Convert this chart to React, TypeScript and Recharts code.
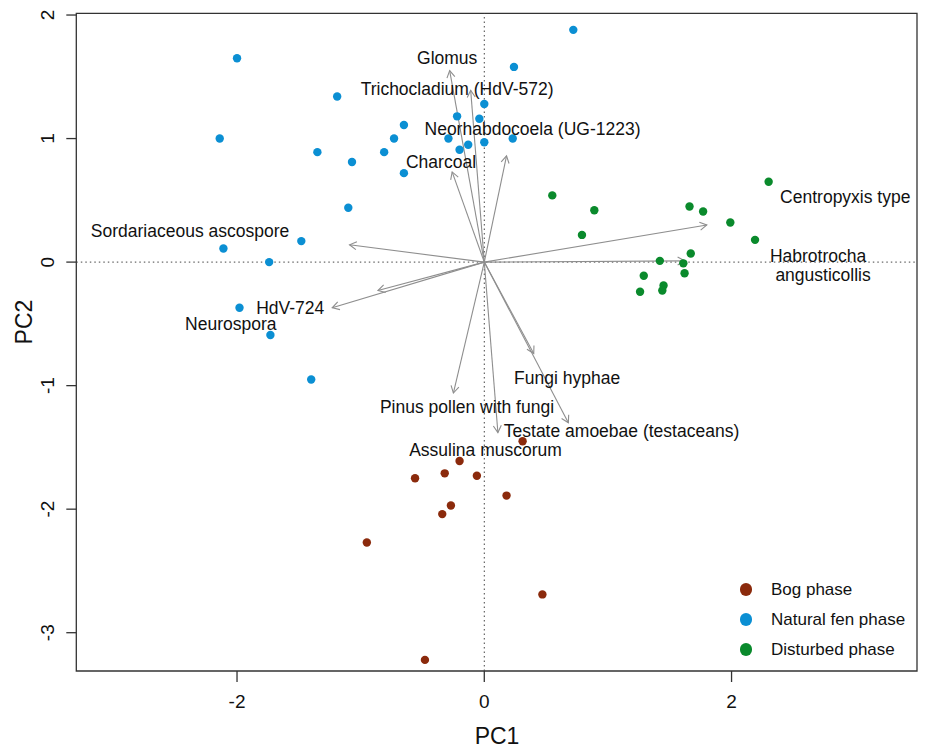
import React from "react"
import {
  ScatterChart,
  Scatter,
  XAxis,
  YAxis,
  ReferenceLine,
  ReferenceArea,
  Legend,
} from "recharts"

// sample scores (PC1 / PC2)
const bogPC1 = [-0.2, -0.32, -0.56, -0.27, -0.34, -0.95, -0.48, 0.31, -0.06, 0.18, 0.47]
const bogPC2 = [-1.61, -1.71, -1.75, -1.97, -2.04, -2.27, -3.22, -1.45, -1.73, -1.89, -2.69]

const fenPC1 = [-2.0, -2.14, -1.19, -1.35, -1.07, -0.65, -0.73, -0.81, -0.65, -1.1, -1.48, -2.11, -1.74, -1.98, -1.73, -1.4, -0.22, -0.04, 0.0, -0.29, -0.2, -0.13, 0.0, 0.23, 0.24, 0.72]
const fenPC2 = [1.65, 1.0, 1.34, 0.89, 0.81, 1.11, 1.0, 0.89, 0.72, 0.44, 0.17, 0.11, 0.0, -0.37, -0.59, -0.95, 1.18, 1.16, 1.28, 1.0, 0.91, 0.95, 0.97, 1.0, 1.58, 1.88]

const disturbedPC1 = [2.3, 0.55, 0.89, 0.79, 1.66, 1.77, 1.99, 2.19, 1.67, 1.42, 1.61, 1.62, 1.29, 1.45, 1.44, 1.26]
const disturbedPC2 = [0.65, 0.54, 0.42, 0.22, 0.45, 0.41, 0.32, 0.18, 0.07, 0.01, -0.01, -0.09, -0.11, -0.19, -0.23, -0.24]

// variable loadings (arrow tips)
const loadingNames = ["Glomus", "Trichocladium (HdV-572)", "Neorhabdocoela (UG-1223)", "Charcoal", "Sordariaceous ascospore", "Neurospora", "HdV-724", "Centropyxis type", "Habrotrocha angusticollis", "Pinus pollen with fungi", "Assulina muscorum", "Testate amoebae (testaceans)", "Fungi hyphae"]
const loadingPC1 = [-0.28, -0.11, 0.18, -0.26, -1.09, -0.86, -1.23, 1.8, 1.62, -0.25, 0.11, 0.68, 0.4]
const loadingPC2 = [1.55, 1.39, 0.86, 0.73, 0.14, -0.23, -0.37, 0.3, 0.01, -1.06, -1.38, -1.3, -0.74]

// label anchors (the two-word Habrotrocha label sits on two lines)
const labelText = ["Glomus", "Trichocladium (HdV-572)", "Neorhabdocoela (UG-1223)", "Charcoal", "Sordariaceous ascospore", "Neurospora", "HdV-724", "Centropyxis type", "Habrotrocha", "angusticollis", "Pinus pollen with fungi", "Assulina muscorum", "Testate amoebae (testaceans)", "Fungi hyphae"]
const labelPC1 = [-0.3, -0.22, 0.39, -0.35, -2.38, -2.05, -1.57, 2.92, 2.7, 2.74, -0.14, 0.01, 1.11, 0.67]
const labelPC2 = [1.65, 1.4, 1.08, 0.81, 0.25, -0.5, -0.37, 0.53, 0.05, -0.1, -1.17, -1.52, -1.37, -0.94]

const groups = [
  { name: "Bog phase", color: "#8b2a0c", xs: bogPC1, ys: bogPC2 },
  { name: "Natural fen phase", color: "#0b8fd3", xs: fenPC1, ys: fenPC2 },
  { name: "Disturbed phase", color: "#0a8a2c", xs: disturbedPC1, ys: disturbedPC2 },
]

const font = "'Liberation Sans', Arial, Helvetica, sans-serif"

const toPoints = (xs: number[], ys: number[]) => xs.map((x, i) => ({ x, y: ys[i] }))

const labels = labelText.map((t, i) => ({ x: labelPC1[i], y: labelPC2[i], text: t }))

const ArrowLine = (p: any) => {
  const { x1, y1, x2, y2 } = p
  const a = Math.atan2(y2 - y1, x2 - x1)
  const L = 8
  const w = Math.PI / 6
  const ax = x2 - L * Math.cos(a - w)
  const ay = y2 - L * Math.sin(a - w)
  const bx = x2 - L * Math.cos(a + w)
  const by = y2 - L * Math.sin(a + w)
  return (
    <g stroke="#8e8e8e" strokeWidth={1.1} fill="none">
      <line x1={x1} y1={y1} x2={x2} y2={y2} />
      <polyline points={`${ax},${ay} ${x2},${y2} ${bx},${by}`} />
    </g>
  )
}

const LabelText = (p: any) => (
  <text x={p.cx} y={p.cy} dy="0.35em" textAnchor="middle" fontSize={17.5} fontFamily={font} fill="#111">
    {p.payload.text}
  </text>
)

const XTick = (p: any) => (
  <text x={p.x} y={p.y + 19} textAnchor="middle" dominantBaseline="central" fontSize={19} fontFamily={font} fill="#111">
    {p.payload.value}
  </text>
)

const YTick = (p: any) => (
  <text
    transform={`translate(${p.x - 19},${p.y}) rotate(-90)`}
    textAnchor="middle"
    dominantBaseline="central"
    fontSize={19}
    fontFamily={font}
    fill="#111"
  >
    {p.payload.value}
  </text>
)

const LegendBox = () => (
  <div style={{ fontFamily: font, fontSize: 17, color: "#111" }}>
    {groups.map((g) => (
      <div key={g.name} style={{ display: "flex", alignItems: "center", height: 30 }}>
        <span style={{ width: 12.6, height: 12.6, borderRadius: "50%", background: g.color, marginRight: 18.7 }} />
        <span>{g.name}</span>
      </div>
    ))}
  </div>
)

export default function App() {
  return (
    <div style={{ position: "absolute", left: 0, top: 0, width: 925, height: 748, background: "#fff" }}>
      <ScatterChart width={925} height={748} margin={{ top: 13.3, right: 8, bottom: 17, left: 16.3 }}>
        <XAxis
          type="number"
          dataKey="x"
          domain={[-3.3, 3.5]}
          ticks={[-2, 0, 2]}
          allowDataOverflow
          axisLine={false}
          tickSize={11}
          tickMargin={0}
          tickLine={{ stroke: "#333", strokeWidth: 1.3 }}
          tick={<XTick />}
          height={60}
        />
        <YAxis
          type="number"
          dataKey="y"
          domain={[-3.31, 2.014]}
          ticks={[-3, -2, -1, 0, 1, 2]}
          allowDataOverflow
          axisLine={false}
          tickSize={10}
          tickMargin={0}
          tickLine={{ stroke: "#333", strokeWidth: 1.3 }}
          tick={<YTick />}
          width={60}
        />
        <ReferenceLine x={0} stroke="#444" strokeDasharray="1.5 3" />
        <ReferenceLine y={0} stroke="#444" strokeDasharray="1.5 3" />
        {loadingNames.map((n, i) => (
          <ReferenceLine
            key={n}
            segment={[{ x: 0, y: 0 }, { x: loadingPC1[i], y: loadingPC2[i] }]}
            shape={<ArrowLine />}
          />
        ))}
        {groups.map((g) => (
          <Scatter
            key={g.name}
            name={g.name}
            data={toPoints(g.xs, g.ys)}
            fill={g.color}
            isAnimationActive={false}
            shape={(p: any) => <circle cx={p.cx} cy={p.cy} r={4.2} fill={g.color} />}
          />
        ))}
        <Scatter
          name="labels"
          data={labels}
          isAnimationActive={false}
          legendType="none"
          shape={<LabelText />}
        />
        <ReferenceArea x1={-3.3} x2={3.5} y1={-3.31} y2={2.014} fill="none" stroke="#333" strokeWidth={1.3} />
        <Legend
          layout="horizontal"
          verticalAlign="middle"
          align="center"
          content={<LegendBox />}
          wrapperStyle={{ left: 739.7, top: 574.7, width: 180, height: 90 }}
        />
      </ScatterChart>
      <div
        style={{
          position: "absolute",
          left: 497,
          top: 736,
          transform: "translate(-50%, -50%)",
          fontFamily: font,
          fontSize: 23,
          color: "#111",
          whiteSpace: "nowrap",
        }}
      >
        PC1
      </div>
      <div
        style={{
          position: "absolute",
          left: 24,
          top: 322,
          transform: "translate(-50%, -50%) rotate(-90deg)",
          fontFamily: font,
          fontSize: 23,
          color: "#111",
          whiteSpace: "nowrap",
        }}
      >
        PC2
      </div>
    </div>
  )
}
